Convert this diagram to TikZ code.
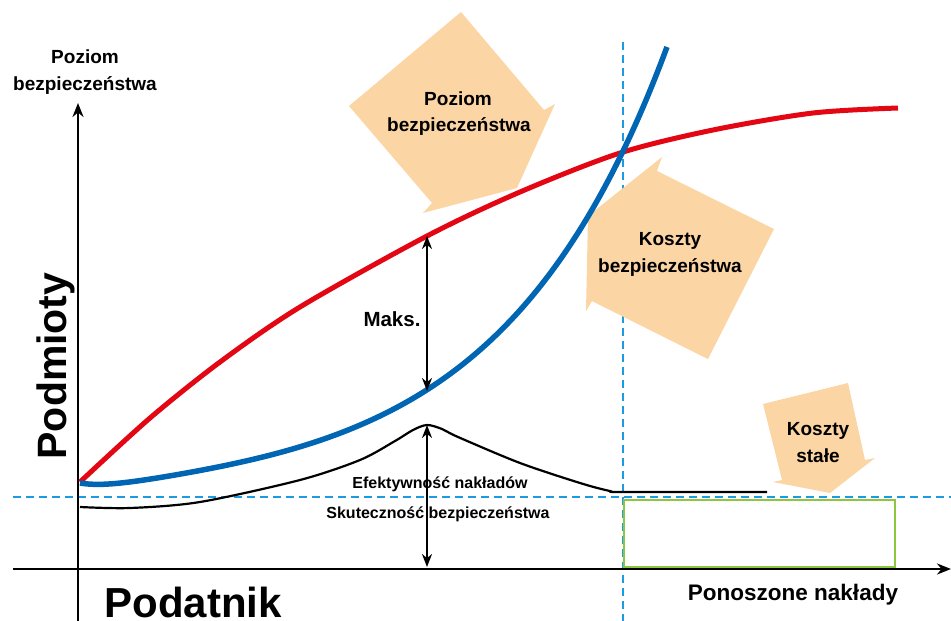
\documentclass[tikz,border=0pt]{standalone}
\usepackage{fontspec}
\setmainfont{Liberation Sans}
\usetikzlibrary{arrows.meta}
\definecolor{redc}{RGB}{227,6,19}
\definecolor{bluec}{RGB}{0,102,179}
\definecolor{dashc}{RGB}{30,155,224}
\definecolor{greenc}{RGB}{141,198,63}
\definecolor{shapec}{RGB}{252,213,165}
\begin{document}
\begin{tikzpicture}[x=1pt,y=-1pt,
  lbl/.style={font=\bfseries\fontsize{19}{23}\selectfont, inner sep=0pt, anchor=base},
  small/.style={font=\bfseries\fontsize{16}{19}\selectfont, inner sep=0pt, anchor=base},
  axis/.style={line width=2.8pt, -{Stealth[length=14pt,width=11pt]}},
  guide/.style={dashc, line width=2.8pt, dash pattern=on 8pt off 5pt},
  dbl/.style={line width=2.4pt, {Stealth[length=13pt,width=10pt]}-{Stealth[length=13pt,width=10pt]}},
  callout/.style={fill=shapec, draw=none}]
\useasboundingbox (0,0) rectangle (951,621);

% guide lines
\draw[guide] (13,497) -- (951,497);
\draw[guide] (623,42) -- (623,621);
\draw[greenc, line width=1.4pt] (624,500) rectangle (895,567);

% axes
\coordinate (yb) at (78,621);
\coordinate (yt) at (78,103);
\coordinate (xl) at (13,569);
\coordinate (xr) at (951,569);
\draw[axis] (yb) -- (yt);
\draw[axis] (xl) -- (xr);

% callout arrows
\fill[callout] (461,12) -- (349,106) -- (432,203) -- (423,213) -- (517,188) -- (555,104) -- (544,110) -- cycle;
\fill[callout] (774,229) -- (657,171) -- (662,157) -- (588,216) -- (586,311) -- (592,301) -- (708,359) -- cycle;
\fill[callout] (763,404) -- (782,480) -- (773,482) -- (830,493) -- (875,458) -- (865,460) -- (848,383) -- cycle;

% curves
\draw[black, line width=2.2pt] plot[smooth, tension=0.5] coordinates {(80,507) (130,508) (200,502) (300,480) (360,460) (395,441) (413,430) (427,425) (442,429) (458,437) (520,463) (580,483) (610,491) (625,492) (767,492)};
\draw[redc, line width=5pt] plot[smooth, tension=0.5] coordinates {(80,482) (150,418) (220,362) (300,307) (427,236) (520,192) (620,153) (713,130) (813,113) (898,108)};
\draw[bluec, line width=5.5pt] plot[domain=80:667, samples=150, smooth] (\x, {483 - 13.3*(exp(0.006*(\x-80))-1) + 0.25*(\x-80)*exp(-(\x-80)/40)});

% measurement arrows
\coordinate (m1) at (427,236);
\coordinate (m2) at (427,391);
\coordinate (m3) at (427,425);
\coordinate (m4) at (427,567);
\draw[dbl] (m1) -- (m2);
\draw[dbl] (m3) -- (m4);

% labels
\node[lbl] (yl1) at (85,63) {Poziom};
\node[lbl] (yl2) at (85,90) {bezpieczeństwa};
\node[lbl] (p1) at (458,105) {Poziom};
\node[lbl] (p2) at (459,131) {bezpieczeństwa};
\node[lbl] (k1) at (670,245) {Koszty};
\node[lbl] (k2) at (670,272) {bezpieczeństwa};
\node[lbl] (s1) at (818,435) {Koszty};
\node[lbl] (s2) at (818,462) {stałe};
\node[lbl, font=\bfseries\fontsize{20.5}{24}\selectfont] (maks) at (392,326) {Maks.};
\node[small] (ef) at (440,488) {Efektywność nakładów};
\node[small] (sk) at (438,518) {Skuteczność bezpieczeństwa};
\node[lbl, font=\bfseries\fontsize{22.5}{26}\selectfont] (pn) at (793,600) {Ponoszone nakłady};
\node[lbl, font=\bfseries\fontsize{42}{48}\selectfont] (pod) at (193,617) {Podatnik};
\node[lbl, font=\bfseries\fontsize{41}{48}\selectfont, rotate=90] (pm) at (66,366) {Podmioty};
\end{tikzpicture}
\end{document}
